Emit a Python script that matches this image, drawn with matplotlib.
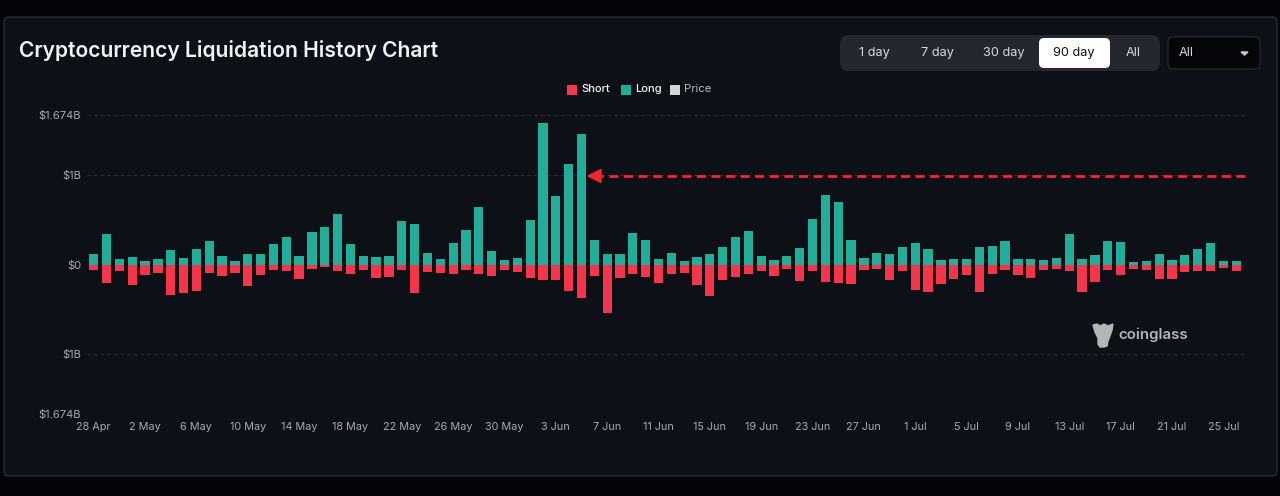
import matplotlib
matplotlib.use("Agg")
import matplotlib.pyplot as plt
from matplotlib.patches import FancyBboxPatch, Rectangle

W, H = 1280, 496

# liquidations per day, in $M
long_vals = [123, 343, 67, 82, 34, 56, 164, 71, 172, 265,
             90, 41, 116, 123, 228, 306, 97, 366, 425, 560,
             228, 93, 86, 97, 492, 451, 131, 56, 239, 384,
             649, 149, 52, 71, 500, 1589, 765, 1123, 1458, 269,
             123, 112, 351, 272, 67, 127, 37, 86, 112, 198,
             306, 373, 97, 48, 90, 183, 507, 783, 698, 269,
             71, 131, 123, 198, 246, 175, 45, 56, 56, 198,
             209, 261, 56, 63, 45, 71, 339, 63, 108, 261,
             257, 26, 34, 112, 45, 101, 168, 239, 41, 34]
short_vals = [67, 205, 75, 224, 123, 97, 347, 317, 298, 97,
              131, 90, 242, 123, 56, 71, 160, 48, 30, 75,
              104, 67, 153, 138, 60, 317, 82, 93, 104, 63,
              108, 134, 63, 82, 149, 175, 175, 302, 380, 131,
              548, 153, 108, 145, 205, 108, 93, 228, 354, 179,
              138, 101, 71, 127, 45, 183, 71, 201, 205, 216,
              63, 45, 168, 75, 287, 306, 216, 157, 112, 306,
              104, 67, 119, 153, 63, 52, 75, 309, 194, 60,
              119, 52, 60, 160, 160, 86, 75, 71, 41, 71]
date_labels = ["28 Apr", "2 May", "6 May", "10 May", "14 May", "18 May", "22 May", "26 May",
               "30 May", "3 Jun", "7 Jun", "11 Jun", "15 Jun", "19 Jun", "23 Jun", "27 Jun",
               "1 Jul", "5 Jul", "9 Jul", "13 Jul", "17 Jul", "21 Jul", "25 Jul"]
y_ticks = [-1674, -1000, 0, 1000, 1674]
y_labels = ["$1.674B", "$1B", "$0", "$1B", "$1.674B"]
ranges = ["1 day", "7 day", "30 day", "90 day", "All"]

GREEN = "#21ad97"
RED = "#f6354a"
CARD = "#0d1016"
GREY = "#a8aaad"

plt.rcParams["font.family"] = ["Inter", "DejaVu Sans"]

fig = plt.figure(figsize=(W / 100, H / 100), dpi=100, facecolor="#04050a")

# whole figure overlay in pixels, y going down, for the page furniture
bg = fig.add_axes([0, 0, 1, 1], zorder=0)
bg.set_xlim(0, W)
bg.set_ylim(H, 0)
bg.axis("off")
bg.add_patch(FancyBboxPatch((4, 17), 1273, 459, boxstyle="round,pad=0,rounding_size=5",
                            fc=CARD, ec="#2a2d32", lw=1))
bg.text(19, 50.5, "Cryptocurrency Liquidation History Chart", color="#f0f2f5", fontsize=15.15,
        fontweight="semibold", va="center")

# range buttons
bg.add_patch(FancyBboxPatch((840, 35), 320, 36, boxstyle="round,pad=0,rounding_size=9",
                            fc="#24272d", ec="none"))
bg.add_patch(FancyBboxPatch((1039, 38), 71, 30, boxstyle="round,pad=0,rounding_size=5",
                            fc="white", ec="none"))
for name, x in zip(ranges, [874, 937, 1004, 1074, 1133]):
    bg.text(x, 53, name, color="#111111" if name == "90 day" else "#d6d8db", fontsize=9.2,
            ha="center", va="center")
bg.add_patch(FancyBboxPatch((1168, 37), 92, 32, boxstyle="round,pad=0,rounding_size=5",
                            fc="#05060a", ec="#24272d", lw=1))
bg.text(1179, 53, "All", color="#d6d8db", fontsize=9.2, va="center")
bg.fill([1241, 1248, 1244.5], [52, 52, 55], color="#c8cacc")

# legend
for name, x, c, tc, fw in [("Short", 567, RED, "#f2f2f2", "medium"),
                           ("Long", 621, GREEN, "#f2f2f2", "medium"),
                           ("Price", 670, "#d5d5d5", "#b5b7ba", "normal")]:
    bg.add_patch(Rectangle((x, 84.5), 10, 10, fc=c, ec="none"))
    bg.text(x + 14, 89.5, name, color=tc, fontsize=8.1, fontweight=fw, va="center")

# chart, 90 daily slots, the grid runs a little past the last one
left, right, top, bottom = 87.3, 1245, 115, 414
ax = fig.add_axes([left / W, 1 - bottom / H, (right - left) / W, (bottom - top) / H], zorder=1)
ax.patch.set_alpha(0)
days = range(len(long_vals))
ax.bar(days, long_vals, width=0.72, color=GREEN, zorder=3)
ax.bar(days, [-v for v in short_vals], width=0.72, color=RED, zorder=3)
ax.set_xlim(-0.5, 89.69)
ax.set_ylim(-1674, 1674)
ax.set_yticks(y_ticks)
ax.set_yticklabels(y_labels, color=GREY, fontsize=8)
ax.set_xticks(range(0, 90, 4))
ax.set_xticklabels(date_labels, color=GREY, fontsize=7.8)
ax.tick_params(axis="y", length=0, pad=4.5)
ax.tick_params(axis="x", length=0, pad=6)
ax.grid(axis="y", color="#2b2e33", lw=0.8, ls=(0, (3, 3)), zorder=0)
for s in ax.spines.values():
    s.set_visible(False)

# annotation arrow and watermark go on top
fg = fig.add_axes([0, 0, 1, 1], zorder=2)
fg.set_xlim(0, W)
fg.set_ylim(H, 0)
fg.axis("off")
fg.plot([1245, 601], [176, 176], color="#f5262c", lw=2, ls=(0, (3.25, 2)))
fg.fill([588, 601, 601], [176, 169.5, 182.5], color="#f5262c")

# rough shape of the logo
logo_x = [1093, 1097, 1100, 1104, 1108, 1113, 1112, 1110, 1108, 1107, 1104, 1100, 1098, 1098, 1095]
logo_y = [325, 324, 326, 324, 326, 324, 330, 336, 341, 346, 347, 347, 344, 338, 332]
fg.fill(logo_x, logo_y, color="#b4b5b7")
fg.text(1118, 335, "coinglass", color="#b4b5b7", fontsize=10.8, fontweight="semibold", va="center")

fig.savefig("out.png", dpi=100, facecolor=fig.get_facecolor())
